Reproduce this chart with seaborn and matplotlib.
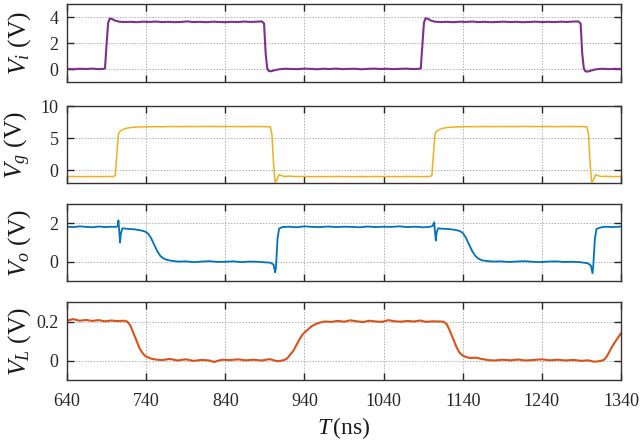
import matplotlib
matplotlib.use("Agg")
import matplotlib.pyplot as plt
import seaborn as sns
import pandas as pd

# ---------------- data ----------------
x_ticks = [640, 740, 840, 940, 1040, 1140, 1240, 1340]

vi_t = [640, 648, 656, 664, 672, 680, 686, 688, 690, 692,
        694, 697, 701, 706, 712, 720, 728, 736, 744, 752,
        760, 768, 776, 784, 792, 800, 808, 816, 824, 832,
        840, 848, 856, 864, 872, 880, 886, 889, 891, 893,
        895, 898, 902, 908, 916, 924, 932, 940, 948, 956,
        964, 972, 980, 988, 996, 1004, 1012, 1020, 1028, 1036,
        1044, 1052, 1060, 1068, 1076, 1084, 1087, 1089, 1091, 1093,
        1096, 1100, 1105, 1112, 1120, 1128, 1136, 1144, 1152, 1160,
        1168, 1176, 1184, 1192, 1200, 1208, 1216, 1224, 1232, 1240,
        1248, 1256, 1264, 1272, 1280, 1286, 1289, 1291, 1293, 1295,
        1298, 1302, 1308, 1316, 1324, 1332, 1340]
vi_v = [0.01, -0.02, 0.02, 0.00, 0.03, -0.01, 0.01, 0.05, 1.90, 3.55,
        3.88, 3.84, 3.72, 3.64, 3.61, 3.63, 3.60, 3.64, 3.62, 3.65,
        3.61, 3.63, 3.60, 3.62, 3.66, 3.61, 3.63, 3.60, 3.64, 3.62,
        3.60, 3.63, 3.61, 3.65, 3.62, 3.64, 3.66, 3.50, 1.20, 0.05,
        -0.16, -0.17, -0.10, -0.02, 0.02, 0.00, -0.01, 0.03, 0.01, -0.02,
        0.02, 0.00, 0.03, -0.01, 0.01, 0.02, -0.02, 0.01, 0.03, 0.00,
        0.02, -0.01, 0.01, 0.03, 0.00, 0.01, 0.05, 1.80, 3.55, 3.90,
        3.86, 3.72, 3.64, 3.61, 3.63, 3.60, 3.64, 3.62, 3.65, 3.61,
        3.63, 3.60, 3.62, 3.64, 3.61, 3.63, 3.60, 3.62, 3.64, 3.61,
        3.63, 3.61, 3.64, 3.62, 3.65, 3.66, 3.50, 1.20, 0.05, -0.18,
        -0.20, -0.12, -0.03, 0.02, -0.01, 0.01, 0.00]

vg_t = [640, 650, 660, 670, 680, 690, 698, 701, 703, 705,
        707, 710, 714, 719, 725, 732, 740, 750, 760, 770,
        780, 790, 800, 810, 820, 830, 840, 850, 860, 870,
        880, 890, 897, 899, 901, 903, 905, 908, 911, 915,
        920, 930, 940, 950, 960, 970, 980, 990, 1000, 1010,
        1020, 1030, 1040, 1050, 1060, 1070, 1080, 1090, 1098, 1101,
        1103, 1105, 1107, 1110, 1114, 1119, 1125, 1132, 1140, 1150,
        1160, 1170, 1180, 1190, 1200, 1210, 1220, 1230, 1240, 1250,
        1260, 1270, 1280, 1290, 1297, 1299, 1301, 1303, 1305, 1308,
        1311, 1315, 1320, 1330, 1340]
vg_v = [-1.00, -0.98, -1.02, -0.99, -1.01, -0.98, -1.00, -0.85, 2.50, 5.60,
        6.05, 6.30, 6.50, 6.62, 6.70, 6.74, 6.76, 6.78, 6.76, 6.80,
        6.78, 6.81, 6.79, 6.80, 6.82, 6.79, 6.81, 6.80, 6.78, 6.81,
        6.80, 6.78, 6.76, 5.50, 1.00, -1.90, -1.60, -0.70, -0.85, -1.00,
        -0.92, -1.00, -0.97, -1.02, -0.99, -1.01, -0.98, -1.00, -1.02, -0.99,
        -1.01, -0.98, -1.00, -0.99, -1.02, -0.98, -1.00, -1.01, -0.99, -0.85,
        2.50, 5.60, 6.05, 6.30, 6.50, 6.62, 6.70, 6.74, 6.76, 6.78,
        6.79, 6.80, 6.78, 6.81, 6.79, 6.80, 6.82, 6.79, 6.81, 6.80,
        6.78, 6.81, 6.80, 6.79, 6.76, 5.50, 1.00, -1.90, -1.60, -0.70,
        -0.85, -1.00, -0.95, -1.01, -0.98]

vo_t = [640, 648, 656, 664, 672, 680, 688, 696, 702, 704,
        705, 706, 707, 708, 710, 714, 720, 726, 732, 738,
        742, 746, 750, 754, 758, 762, 766, 772, 780, 790,
        800, 810, 820, 830, 840, 850, 860, 870, 880, 890,
        897, 901, 903, 904, 906, 908, 912, 920, 930, 940,
        950, 960, 970, 980, 990, 1000, 1010, 1020, 1030, 1040,
        1050, 1060, 1070, 1080, 1090, 1098, 1102, 1104, 1105, 1106,
        1107, 1109, 1112, 1118, 1124, 1130, 1136, 1140, 1144, 1148,
        1152, 1156, 1160, 1164, 1170, 1178, 1188, 1198, 1208, 1218,
        1228, 1238, 1248, 1258, 1268, 1278, 1288, 1298, 1302, 1304,
        1305, 1307, 1309, 1314, 1320, 1330, 1340]
vo_v = [1.82, 1.80, 1.84, 1.81, 1.79, 1.83, 1.80, 1.82, 1.81, 1.86,
        2.15, 1.60, 1.00, 1.45, 1.74, 1.72, 1.70, 1.68, 1.64, 1.58,
        1.48, 1.25, 0.90, 0.55, 0.30, 0.17, 0.10, 0.05, 0.01, 0.02,
        -0.02, 0.01, 0.03, -0.01, 0.00, 0.02, -0.02, 0.01, 0.00, -0.03,
        -0.05, -0.15, -0.55, -0.30, 1.20, 1.72, 1.80, 1.82, 1.79, 1.84,
        1.81, 1.80, 1.83, 1.80, 1.82, 1.81, 1.79, 1.83, 1.80, 1.82,
        1.81, 1.84, 1.80, 1.82, 1.79, 1.81, 1.86, 2.05, 1.55, 1.10,
        1.50, 1.74, 1.72, 1.71, 1.69, 1.66, 1.60, 1.50, 1.25, 0.90,
        0.55, 0.30, 0.16, 0.08, 0.04, 0.01, 0.02, -0.01, 0.01, 0.03,
        0.00, -0.02, 0.01, 0.02, -0.01, 0.00, -0.02, -0.08, -0.20, -0.60,
        -0.20, 1.20, 1.70, 1.78, 1.82, 1.80, 1.83]

vl_t = [640, 648, 656, 664, 672, 680, 688, 696, 704, 712,
        716, 720, 724, 728, 732, 736, 740, 746, 752, 760,
        770, 780, 790, 800, 810, 820, 826, 830, 836, 846,
        856, 866, 876, 886, 896, 906, 914, 918, 922, 926,
        930, 934, 938, 942, 946, 950, 955, 960, 966, 974,
        982, 990, 998, 1006, 1014, 1022, 1030, 1038, 1046, 1054,
        1062, 1070, 1078, 1086, 1094, 1102, 1110, 1116, 1120, 1124,
        1128, 1132, 1136, 1140, 1144, 1150, 1156, 1164, 1172, 1180,
        1190, 1200, 1210, 1220, 1230, 1240, 1250, 1260, 1270, 1280,
        1290, 1298, 1306, 1312, 1318, 1322, 1326, 1330, 1335, 1340]
vl_v = [0.205, 0.212, 0.204, 0.208, 0.203, 0.207, 0.201, 0.205, 0.202, 0.204,
        0.200, 0.180, 0.140, 0.100, 0.060, 0.035, 0.020, 0.010, 0.005, 0.002,
        0.008, 0.000, 0.006, -0.002, 0.003, 0.000, -0.008, -0.002, 0.004, 0.002,
        0.006, 0.001, 0.004, 0.000, 0.007, -0.004, 0.002, 0.010, 0.030, 0.050,
        0.080, 0.110, 0.135, 0.150, 0.165, 0.178, 0.188, 0.195, 0.200, 0.198,
        0.203, 0.199, 0.206, 0.201, 0.197, 0.204, 0.200, 0.198, 0.207, 0.201,
        0.199, 0.203, 0.200, 0.205, 0.198, 0.201, 0.200, 0.199, 0.185, 0.150,
        0.110, 0.070, 0.040, 0.025, 0.018, 0.012, 0.015, 0.008, 0.002, 0.000,
        0.004, 0.001, 0.005, 0.000, 0.003, 0.006, 0.001, 0.004, 0.000, 0.003,
        -0.002, 0.001, -0.006, -0.004, 0.002, 0.020, 0.050, 0.080, 0.110, 0.140]

labels = ["$V_i$ (V)", "$V_g$ (V)", "$V_o$ (V)", "$V_L$ (V)"]
colors = ["#7E2F8E", "#EDB120", "#0072BD", "#D95319"]
y_ticks = [[0, 2, 4], [0, 5, 10], [0, 2], [0, 0.2]]
y_ticklabels = [["0", "2", "4"], ["0", "5", "10"], ["0", "2"], ["0", "0.2"]]
y_lims = [(-1, 5), (-2, 10), (-1, 3), (-0.1, 0.3)]

# ---------------- style ----------------
sns.set_theme(style="ticks")
plt.rcParams["font.family"] = ["Liberation Serif", "DejaVu Serif"]
plt.rcParams["mathtext.fontset"] = "custom"
plt.rcParams["mathtext.rm"] = "Liberation Serif"
plt.rcParams["mathtext.it"] = "Liberation Serif:italic"
plt.rcParams["mathtext.bf"] = "Liberation Serif:bold"

fig = plt.figure(figsize=(6.41, 4.43), dpi=100)
W, H = 641, 443
boxes = [(4, 82), (106, 183), (204, 281), (302, 380)]
left, right = 67, 621

series = [(vi_t, vi_v), (vg_t, vg_v), (vo_t, vo_v), (vl_t, vl_v)]
widths = [1.5, 1.1, 1.3, 1.5]
axes = []
for i, ((top, bot), (t, v)) in enumerate(zip(boxes, series)):
    ax = fig.add_axes([left / W, 1 - bot / H, (right - left) / W, (bot - top) / H])
    df = pd.DataFrame({"t": t, "v": v})
    sns.lineplot(data=df, x="t", y="v", ax=ax, color=colors[i],
                 linewidth=widths[i], estimator=None, sort=False)
    ax.set_xlim(640, 1340)
    ax.set_ylim(*y_lims[i])
    ax.set_xticks(x_ticks)
    ax.set_yticks(y_ticks[i])
    ax.set_yticklabels(y_ticklabels[i])
    ax.grid(True, linestyle=(0, (1.5, 1.5)), color="#b0b0b0", linewidth=0.7)
    ax.tick_params(direction="in", top=True, right=True, length=5,
                   width=1.0, labelsize=13, colors="#262626", pad=6)
    for s in ax.spines.values():
        s.set_linewidth(1.0)
        s.set_color("#333333")
    ax.set_ylabel(labels[i], fontsize=18.5, color="#1a1a1a")
    ax.yaxis.set_label_coords(-0.062, 0.5)
    if i < 3:
        ax.set_xlabel("")
        ax.tick_params(labelbottom=False)
    else:
        ax.set_xticklabels([str(x) for x in x_ticks])
        ax.set_xlabel("$T\\,$(ns)", fontsize=17, color="#1a1a1a", labelpad=4)
        ax.tick_params(axis="x", pad=9)
    axes.append(ax)

fig.savefig("out.png", dpi=100)
